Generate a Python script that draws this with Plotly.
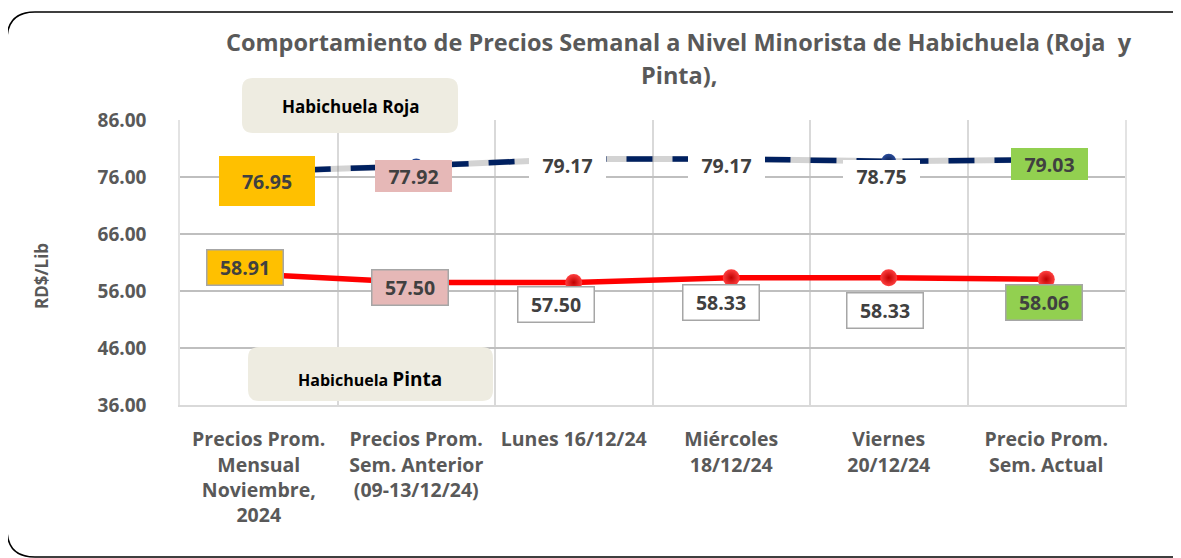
import plotly.graph_objects as go

# ---------------- data ----------------
categories = [
    "Precios Prom.<br>Mensual<br>Noviembre,<br>2024",
    "Precios Prom.<br>Sem. Anterior<br>(09-13/12/24)",
    "Lunes 16/12/24",
    "Miércoles<br>18/12/24",
    "Viernes<br>20/12/24",
    "Precio Prom.<br>Sem. Actual",
]
roja = [76.95, 77.92, 79.17, 79.17, 78.75, 79.03]
pinta = [58.91, 57.50, 57.50, 58.33, 58.33, 58.06]
y_ticks = [36, 46, 56, 66, 76, 86]
title_lines = ["Comportamiento de Precios Semanal a Nivel Minorista de Habichuela (Roja \u00a0y", "Pinta),"]

# ---------------- styling ----------------
FONT = "Open Sans"
GRAY = "#595959"
LBL = "#404040"
label_bg = ["#FFC000", "#E6B8B7", "#FFFFFF", "#FFFFFF", "#FFFFFF", "#92D050"]
roja_shift = [(8, -9), (-3, -10), (-6, -6), (-5, -6), (-7, -15), (3, -4)]
pinta_shift = [(-14, 7), (-6, -5), (-18, -22), (-10, -25), (-4, -33), (-2, -23)]

OFF = 8  # page body margin
W, H = 1181 - OFF, 558 - OFF
# plot area in reference (window) pixels
RL, RR, RT, RB = 180, 1125, 120, 405
L, R, T, B = RL - OFF, RR - OFF, RT - OFF, RB - OFF


def px(x):
    return (x - RL) / (RR - RL)


def py(y):
    return (RB - y) / (RB - RT)


def rrect(x0, y0, x1, y1, r):
    pts = [
        ("M", [(x0 + r, y0)]), ("L", [(x1 - r, y0)]), ("Q", [(x1, y0), (x1, y0 + r)]),
        ("L", [(x1, y1 - r)]), ("Q", [(x1, y1), (x1 - r, y1)]), ("L", [(x0 + r, y1)]),
        ("Q", [(x0, y1), (x0, y1 - r)]), ("L", [(x0, y0 + r)]), ("Q", [(x0, y0), (x0 + r, y0)]),
    ]
    s = ""
    for cmd, ps in pts:
        s += cmd + " " + " ".join(f"{px(a):.5f},{py(b):.5f}" for a, b in ps) + " "
    return s + "Z"


fig = go.Figure()

# soft shadow of the dashed line
fig.add_trace(go.Scatter(
    x=categories, y=roja, mode="lines",
    line=dict(color="rgba(110,110,110,0.30)", width=6),
    hoverinfo="skip", showlegend=False,
))
fig.add_trace(go.Scatter(
    x=categories, y=roja, mode="lines+markers", name="Habichuela Roja",
    line=dict(color="#002060", width=5.5, dash="26px,20px"),
    marker=dict(size=15, color="#2A4C9A", gradient=dict(type="radial", color="#0A1F50")),
    showlegend=False,
))
fig.add_trace(go.Scatter(
    x=categories, y=pinta, mode="lines+markers", name="Habichuela Pinta",
    line=dict(color="#FF0000", width=5.5),
    marker=dict(size=17, color="#FF4040", gradient=dict(type="radial", color="#C00000")),
    showlegend=False,
))

annotations = []
for i, (c, v) in enumerate(zip(categories, roja)):
    big = i == 0
    annotations.append(dict(
        x=c, y=v, xref="x", yref="y", text=f"<b>{v:.2f}</b>", showarrow=False,
        xanchor="center", yanchor="middle",
        xshift=roja_shift[i][0], yshift=roja_shift[i][1],
        font=dict(family=FONT, size=19.5, color=LBL),
        bgcolor=label_bg[i], width=90 if big else 71, height=44 if big else 26,
        borderpad=3, borderwidth=0,
    ))
for i, (c, v) in enumerate(zip(categories, pinta)):
    annotations.append(dict(
        x=c, y=v, xref="x", yref="y", text=f"<b>{v:.2f}</b>", showarrow=False,
        xanchor="center", yanchor="middle",
        xshift=pinta_shift[i][0], yshift=pinta_shift[i][1],
        font=dict(family=FONT, size=19.5, color=LBL),
        bgcolor=label_bg[i], bordercolor="#A6A6A6", borderwidth=1.5,
        width=71, height=30, borderpad=2,
    ))

# series name boxes text
annotations.append(dict(
    x=px(350), y=py(106), xref="paper", yref="paper", showarrow=False,
    xanchor="center", yanchor="middle",
    text="<b>Habichuela Roja</b>", font=dict(family=FONT, size=17, color="#000000"),
))
annotations.append(dict(
    x=px(370), y=py(379), xref="paper", yref="paper", showarrow=False,
    xanchor="center", yanchor="middle",
    text="<b>Habichuela <span style='font-size:19px'>Pinta</span></b>",
    font=dict(family=FONT, size=16, color="#000000"),
))
# y-axis title
annotations.append(dict(
    x=px(41), y=py(276), xref="paper", yref="paper", showarrow=False, textangle=-90,
    xanchor="center", yanchor="middle",
    text="<b>RD$/Lib</b>", font=dict(family=FONT, size=17, color=GRAY),
))
# chart title
for k, line in enumerate(title_lines):
    annotations.append(dict(
        x=px(679), y=py(42 + 33 * k), xref="paper", yref="paper", showarrow=False,
        xanchor="center", yanchor="middle",
        text=f"<b>{line}</b>", font=dict(family=FONT, size=23.5, color=GRAY),
    ))

shapes = [
    dict(type="path", xref="paper", yref="paper", path=rrect(7, 12, 1205, 557, 28),
         line=dict(color="#000000", width=1.5), fillcolor="rgba(0,0,0,0)", layer="below"),
    dict(type="path", xref="paper", yref="paper", path=rrect(242, 78, 458, 133, 11),
         line=dict(width=0), fillcolor="#EEECE1", layer="above"),
    dict(type="path", xref="paper", yref="paper", path=rrect(248, 347, 493, 401, 11),
         line=dict(width=0), fillcolor="#EEECE1", layer="above"),
]

fig.update_layout(
    width=W, height=H,
    margin=dict(l=L, r=W - R, t=T, b=H - B),
    paper_bgcolor="#FFFFFF", plot_bgcolor="#FFFFFF",
    annotations=annotations, shapes=shapes,
    xaxis=dict(
        type="category", range=[-0.5, 5.5], tickson="boundaries",
        showgrid=True, gridcolor="#D9D9D9", gridwidth=1.5,
        showline=True, linecolor="#D9D9D9", linewidth=2,
        ticks="", ticklabelstandoff=16,
        tickfont=dict(family=FONT, size=19.5, color=GRAY),
        tickvals=categories, ticktext=[f"<b>{c}</b>" for c in categories],
        fixedrange=True,
    ),
    yaxis=dict(
        range=[36, 86], tickvals=y_ticks,
        ticktext=[f"<b>{v:.2f}</b>" for v in y_ticks],
        showgrid=True, gridcolor="#BFBFBF", gridwidth=1.5, zeroline=False,
        showline=True, mirror=True, linecolor="#E3E3E3", linewidth=1.5,
        ticks="", ticklabelstandoff=28,
        tickfont=dict(family=FONT, size=19, color=GRAY),
        fixedrange=True,
    ),
    showlegend=False,
)

fig.write_html("out.html")
